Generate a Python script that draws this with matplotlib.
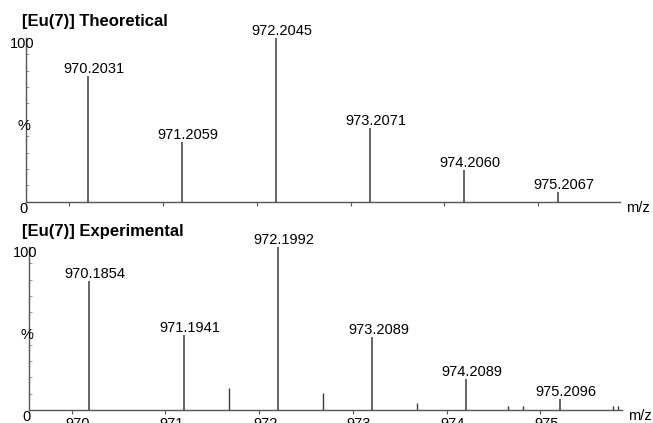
import matplotlib.pyplot as plt

plt.rcParams['font.family'] = ['Liberation Sans', 'DejaVu Sans']

# Theoretical isotope pattern
theo_mz = [970.2031, 971.2059, 972.2045, 973.2071, 974.2060, 975.2067]
theo_int = [76.8, 36.7, 100.0, 45.2, 19.4, 5.7]

# Experimental spectrum, labelled peaks
exp_mz = [970.1854, 971.1941, 972.1992, 973.2089, 974.2089, 975.2096]
exp_int = [79.2, 45.9, 100.0, 44.7, 19.2, 6.9]

# Experimental spectrum, small unlabelled peaks
minor_mz = [971.68, 972.68, 973.68, 974.66, 974.81, 975.77, 975.83]
minor_int = [13.3, 10.6, 4.5, 2.6, 2.6, 2.6, 2.6]

x_ticks = [970, 971, 972, 973, 974, 975]

fig = plt.figure(figsize=(6.53, 4.23), dpi=100)
ax1 = fig.add_axes([0.0398, 0.5232, 0.9096, 0.387])
ax2 = fig.add_axes([0.0444, 0.0307, 0.9077, 0.3853])

line_col = '#3a3a3a'
axis_col = '#555555'


def style_axis(ax, show_xlabels):
    ax.set_xlim(969.545, 975.868)
    ax.set_ylim(0, 100)
    for s in ['top', 'right']:
        ax.spines[s].set_visible(False)
    for s in ['left', 'bottom']:
        ax.spines[s].set_color(axis_col)
        ax.spines[s].set_linewidth(1)
    ax.set_xticks(x_ticks)
    ax.set_xticklabels([])
    ax.tick_params(axis='x', direction='out', length=3, color=axis_col)
    if show_xlabels:
        # tick labels sit a little right of their ticks in the original
        for t in x_ticks:
            ax.annotate(str(t), xy=(t, 0), xytext=(4.3, -5.2),
                        textcoords='offset points', ha='center', va='top',
                        fontsize=10.5, annotation_clip=False)
    ax.set_yticks([])
    ax.set_yticks(range(10, 100, 10), minor=True)
    ax.tick_params(axis='y', which='minor', direction='in', length=2, color='#888888')
    ax.annotate('100', xy=(0, 100), xycoords=('axes fraction', 'data'),
                xytext=(-2.5, -4), textcoords='offset points',
                ha='center', va='center', fontsize=10.5, annotation_clip=False)
    ax.annotate('0', xy=(0, 0), xycoords=('axes fraction', 'data'),
                xytext=(-1.5, -5), textcoords='offset points',
                ha='center', va='center', fontsize=10.5, annotation_clip=False)
    ax.annotate('%', xy=(0, 46), xycoords=('axes fraction', 'data'),
                xytext=(-1.5, 0), textcoords='offset points',
                ha='center', va='center', fontsize=10.5, annotation_clip=False)
    ax.annotate('m/z', xy=(1, 0), xycoords='axes fraction',
                xytext=(13, -4.5), textcoords='offset points',
                ha='center', va='center', fontsize=10.5, annotation_clip=False)


def label_peaks(ax, mz, inten):
    for m, i in zip(mz, inten):
        ax.annotate(f'{m:.4f}', xy=(m, i), xytext=(4.3, 2.2),
                    textcoords='offset points', ha='center', va='baseline',
                    fontsize=10.5, annotation_clip=False)


style_axis(ax1, False)
ax1.vlines(theo_mz, 0, theo_int, color=line_col, lw=1.1)
label_peaks(ax1, theo_mz, theo_int)

style_axis(ax2, True)
ax2.vlines(exp_mz, 0, exp_int, color=line_col, lw=1.1)
ax2.vlines(minor_mz, 0, minor_int, color=line_col, lw=1.0)
label_peaks(ax2, exp_mz, exp_int)

fig.text(22 / 653, 1 - 26 / 423, '[Eu(7)] Theoretical', fontsize=12,
         fontweight='bold', ha='left', va='baseline')
fig.text(22 / 653, 1 - 236 / 423, '[Eu(7)] Experimental', fontsize=12,
         fontweight='bold', ha='left', va='baseline')

fig.savefig('out.png', dpi=100)
